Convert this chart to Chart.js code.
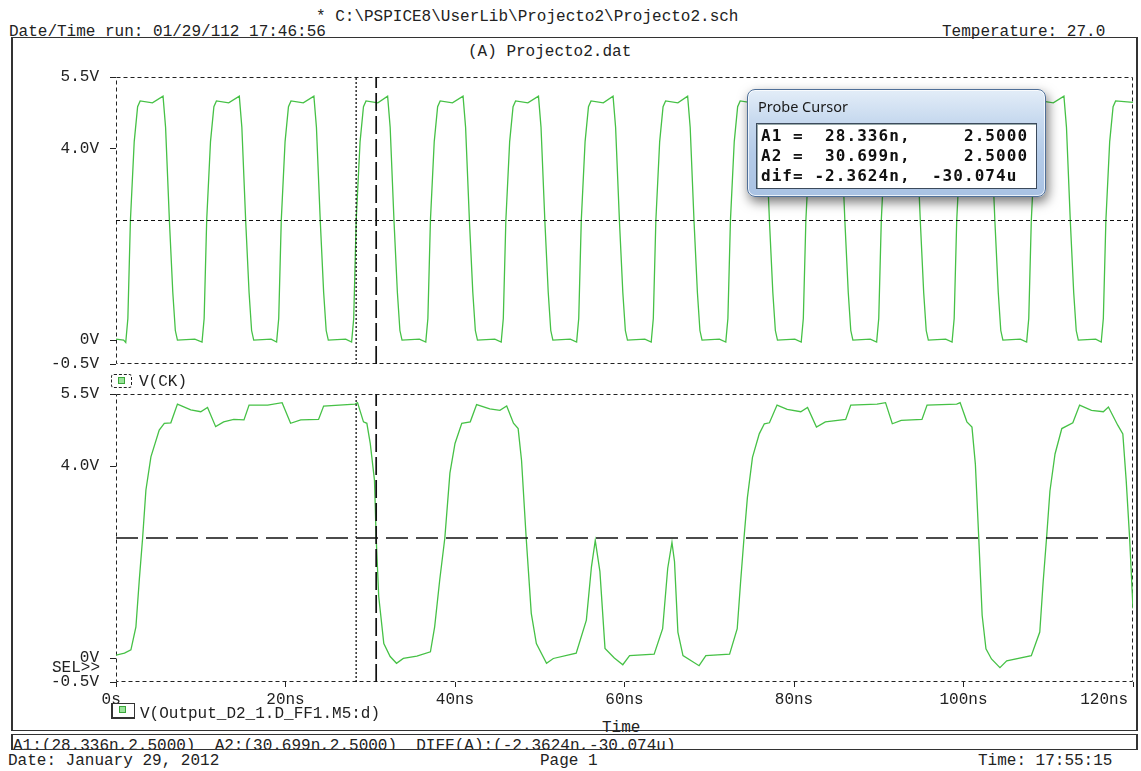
<!DOCTYPE html>
<html>
<head>
<meta charset="utf-8">
<script src="https://cdn.jsdelivr.net/npm/chart.js@4.4.1/dist/chart.umd.min.js"></script>
<style>
html,body{margin:0;padding:0;background:#fff;width:1141px;height:771px;overflow:hidden;position:relative;}
.t{position:absolute;font-family:'Liberation Mono','DejaVu Sans Mono',monospace;font-size:16px;line-height:16px;color:#222;white-space:pre;}
.cv{position:absolute;left:0;}
#frame{position:absolute;left:11px;top:37px;width:1123px;height:692px;border-top:1px solid #333;border-bottom:1px solid #333;border-left:2px solid #333;border-right:2px solid #333;}
#foot{position:absolute;left:11px;top:734px;width:1123px;height:14px;border-top:1px solid #333;border-bottom:1px solid #333;border-left:2px solid #333;border-right:2px solid #333;overflow:hidden;}
#foot .t{left:0px;top:3px;}
.ico1{position:absolute;left:111px;top:374px;width:19px;height:12px;border:1px dashed #222;border-radius:3px;}
.ico2{position:absolute;left:111px;top:703px;width:21px;height:13px;border:1px solid #333;border-left-width:2px;border-bottom-width:2px;}
.sq{position:absolute;width:5px;height:5px;background:#9be39b;border:1px solid #3aa83a;}
#probe{position:absolute;left:747px;top:89px;width:297px;height:106px;border:1px solid #4f6f98;border-radius:8px;
background:linear-gradient(180deg,#e3edf8 0%,#c8daef 28%,#b4cbe8 60%,#a9c2e3 100%);
box-shadow:inset 0 0 0 1px rgba(255,255,255,0.75), 2px 5px 12px rgba(0,0,0,0.55);}
#probe .ttl{position:absolute;left:10px;top:6px;font-family:'Noto Sans','Open Sans',sans-serif;font-size:14.5px;color:#1a1a1a;}
#probe .box{position:absolute;left:8px;top:33px;width:279px;height:64px;background:#fff;border:1px solid #3c4a5c;box-shadow:inset 1px 1px 0 #9aa;}
#probe .box div{position:absolute;left:4px;font-family:'DejaVu Sans Mono',monospace;font-weight:bold;font-size:16px;line-height:20px;letter-spacing:1.05px;color:#111;white-space:pre;}
</style>
</head>
<body>
<div id="frame"></div>
<div class="cv" style="top:67px;width:1141px;height:310px;"><canvas id="c1" width="1141" height="310"></canvas></div>
<div class="cv" style="top:384px;width:1141px;height:328px;"><canvas id="c2" width="1141" height="328"></canvas></div>

<div class="t" style="left:316px;top:9px;">* C:\PSPICE8\UserLib\Projecto2\Projecto2.sch</div>
<div class="t" style="left:9px;top:24px;">Date/Time run: 01/29/112 17:46:56</div>
<div class="t" style="left:942px;top:24px;">Temperature: 27.0</div>
<div class="t" style="left:468px;top:44px;">(A) Projecto2.dat</div>

<div class="ico1"><div class="sq" style="left:6px;top:2px;"></div></div>
<div class="t" style="left:139px;top:374px;">V(CK)</div>
<div class="t" style="left:52px;top:660px;">SEL&gt;&gt;</div>
<div class="ico2"><div class="sq" style="left:6px;top:2px;"></div></div>
<div class="t" style="left:140px;top:706px;">V(Output_D2_1.D_FF1.M5:d)</div>
<div class="t" style="left:602px;top:720px;">Time</div>

<div id="foot"><div class="t">A1:(28.336n,2.5000)  A2:(30.699n,2.5000)  DIFF(A):(-2.3624n,-30.074u)</div></div>
<div class="t" style="left:8px;top:753px;">Date: January 29, 2012</div>
<div class="t" style="left:540px;top:753px;">Page 1</div>
<div class="t" style="left:978px;top:753px;">Time: 17:55:15</div>

<div id="probe">
  <div class="ttl">Probe Cursor</div>
  <div class="box">
    <div style="top:2px;">A1 =  28.336n,     2.5000</div>
    <div style="top:22px;">A2 =  30.699n,     2.5000</div>
    <div style="top:42px;">dif= -2.3624n,  -30.074u</div>
  </div>
</div>

<script>
// ---- axis ticks ----
const xTickValues = [0, 20, 40, 60, 80, 100, 120];
const xTickLabels = ['0s', '20ns', '40ns', '60ns', '80ns', '100ns', '120ns'];
const yTickValues = [-0.5, 0, 4.0, 5.5];
const yTickLabels = ['-0.5V', '0V', '4.0V', '5.5V'];

// ---- probe cursors ----
const cursorA1 = 28.336;
const cursorA2 = 30.699;
const cursorLevel = 2.5;

// ---- V(CK) : time (ns) / volts ----
const clkTime = [
  0, 0.9,
  1.15, 1.4, 1.7, 2.15, 2.55, 2.85, 4.3, 5.55, 5.85, 6.3, 6.7, 7.0, 7.25, 9.3,
  10.15, 10.4, 10.7, 11.15, 11.55, 11.85, 13.3, 14.55, 14.85, 15.3, 15.7, 16.0, 16.25, 18.3,
  18.95, 19.2, 19.5, 19.95, 20.35, 20.65, 22.1, 23.35, 23.65, 24.1, 24.5, 24.8, 25.05, 27.1,
  27.8, 28.05, 28.34, 28.8, 29.2, 29.5, 30.9, 32.05, 32.35, 32.8, 33.2, 33.5, 33.75, 35.8,
  36.55, 36.8, 37.1, 37.55, 37.95, 38.25, 39.7, 40.95, 41.25, 41.7, 42.1, 42.4, 42.65, 44.7,
  45.45, 45.7, 46.0, 46.45, 46.85, 47.15, 48.6, 49.85, 50.15, 50.6, 51.0, 51.3, 51.55, 53.6,
  54.35, 54.6, 54.9, 55.35, 55.75, 56.05, 57.5, 58.65, 58.95, 59.4, 59.8, 60.1, 60.35, 62.4,
  63.15, 63.4, 63.7, 64.15, 64.55, 64.85, 66.3, 67.45, 67.75, 68.2, 68.6, 68.9, 69.15, 71.2,
  71.95, 72.2, 72.5, 72.95, 73.35, 73.65, 75.1, 76.35, 76.65, 77.1, 77.5, 77.8, 78.05, 80.1,
  80.85, 81.1, 81.4, 81.85, 82.25, 82.55, 84.0, 85.25, 85.55, 86.0, 86.4, 86.7, 86.95, 89.0,
  89.75, 90.0, 90.3, 90.75, 91.15, 91.45, 92.9, 94.15, 94.45, 94.9, 95.3, 95.6, 95.85, 97.9,
  98.65, 98.9, 99.2, 99.65, 100.05, 100.35, 101.8, 102.95, 103.25, 103.7, 104.1, 104.4, 104.65, 106.7,
  107.45, 107.7, 108.0, 108.45, 108.85, 109.15, 110.6, 111.85, 112.15, 112.6, 113.0, 113.3, 113.55, 115.6,
  116.25, 116.5, 116.8, 117.25, 117.65, 117.95, 120
];
const clkVolt = [
  0.02, 0.0,
  -0.05, 0.45, 2.5, 4.15, 4.88, 5.0, 4.96, 5.1, 4.45, 2.5, 1.0, 0.2, 0.0, 0.02,
  -0.04, 0.45, 2.5, 4.15, 4.88, 5.0, 4.96, 5.1, 4.45, 2.5, 1.0, 0.2, 0.0, 0.02,
  -0.04, 0.45, 2.5, 4.15, 4.88, 5.0, 4.96, 5.1, 4.45, 2.5, 1.0, 0.2, 0.0, 0.02,
  -0.04, 0.45, 2.5, 4.15, 4.88, 5.0, 4.96, 5.1, 4.45, 2.5, 1.0, 0.2, 0.0, 0.02,
  -0.04, 0.45, 2.5, 4.15, 4.88, 5.0, 4.96, 5.1, 4.45, 2.5, 1.0, 0.2, 0.0, 0.02,
  -0.04, 0.45, 2.5, 4.15, 4.88, 5.0, 4.96, 5.1, 4.45, 2.5, 1.0, 0.2, 0.0, 0.02,
  -0.04, 0.45, 2.5, 4.15, 4.88, 5.0, 4.96, 5.1, 4.45, 2.5, 1.0, 0.2, 0.0, 0.02,
  -0.04, 0.45, 2.5, 4.15, 4.88, 5.0, 4.96, 5.1, 4.45, 2.5, 1.0, 0.2, 0.0, 0.02,
  -0.04, 0.45, 2.5, 4.15, 4.88, 5.0, 4.96, 5.1, 4.45, 2.5, 1.0, 0.2, 0.0, 0.02,
  -0.04, 0.45, 2.5, 4.15, 4.88, 5.0, 4.96, 5.1, 4.45, 2.5, 1.0, 0.2, 0.0, 0.02,
  -0.04, 0.45, 2.5, 4.15, 4.88, 5.0, 4.96, 5.1, 4.45, 2.5, 1.0, 0.2, 0.0, 0.02,
  -0.04, 0.45, 2.5, 4.15, 4.88, 5.0, 4.96, 5.1, 4.45, 2.5, 1.0, 0.2, 0.0, 0.02,
  -0.04, 0.45, 2.5, 4.15, 4.88, 5.0, 4.96, 5.1, 4.45, 2.5, 1.0, 0.2, 0.0, 0.02,
  -0.04, 0.45, 2.5, 4.15, 4.88, 5.0, 4.97
];

// ---- V(Output_D2_1.D_FF1.M5:d) : time (ns) / volts ----
const outTime = [
  0, 1.0, 1.76, 2.35, 2.75, 3.14, 3.53, 4.12, 5.1, 5.7, 6.47, 7.25, 8.82, 10.0, 10.8, 11.76,
  12.7, 13.9, 15.1, 15.7, 17.9, 19.6, 20.6, 21.8, 23.9, 24.5, 28.2, 28.5, 29.2, 29.6, 30.0,
  30.5, 30.7, 31.0, 31.6, 32.35, 33.1, 33.9, 35.5, 37.1, 37.6, 38.2, 38.8, 39.4, 40.0, 40.8,
  41.8, 42.55, 44.1, 45.3, 46.1, 46.9, 47.45, 47.85, 48.4, 49.0, 49.6, 50.8, 51.6, 54.3,
  55.5, 56.1, 56.55, 57.1, 57.7, 58.8, 59.8, 60.6, 63.5, 64.5, 65.1, 65.6, 65.9, 66.3, 66.9,
  68.8, 69.6, 72.4, 73.3, 73.7, 74.1, 74.5, 75.1, 75.9, 76.5, 77.1, 78.0, 79.2, 80.8, 81.6,
  82.65, 83.7, 86.1, 86.7, 89.8, 90.8, 91.6, 92.65, 95.1, 95.7, 99.2, 99.6, 100.4, 101.0,
  101.4, 101.8, 102.2, 102.65, 103.3, 104.3, 105.1, 108.0, 109.0, 109.4, 109.8, 110.2, 110.8,
  111.6, 112.9, 113.7, 115.1, 116.5, 117.1, 118.2, 118.8, 119.2, 119.6, 120
];
const outVolt = [
  0.06, 0.1, 0.17, 0.65, 1.63, 2.5, 3.5, 4.19, 4.75, 4.89, 4.9, 5.29, 5.17, 5.13, 5.22, 4.82,
  4.92, 4.97, 4.96, 5.27, 5.27, 5.32, 4.89, 4.96, 4.97, 5.25, 5.29, 5.32, 4.92, 4.89, 4.47,
  3.7, 2.5, 1.28, 0.3, 0.03, -0.11, -0.01, 0.04, 0.13, 0.65, 1.63, 2.5, 3.85, 4.47, 4.89,
  4.92, 5.28, 5.19, 5.16, 5.25, 4.89, 4.78, 4.12, 2.5, 0.93, 0.3, -0.11, -0.01, 0.1,
  0.79, 1.9, 2.45, 1.8, 0.2, 0.0, -0.14, 0.05, 0.08, 0.61, 1.87, 2.41, 2.01, 0.54, 0.05,
  -0.16, 0.05, 0.08, 0.61, 1.59, 2.5, 3.34, 4.18, 4.67, 4.88, 4.9, 5.27, 5.18, 5.13, 5.22,
  4.81, 4.92, 4.97, 5.27, 5.29, 5.32, 4.88, 4.95, 4.97, 5.27, 5.29, 5.32, 4.92, 4.81,
  4.04, 2.5, 0.89, 0.19, -0.02, -0.2, -0.06, 0.05, 0.54, 1.59, 2.5, 3.48, 4.25,
  4.78, 4.9, 5.27, 5.16, 5.13, 5.23, 4.85, 4.67, 3.69, 2.5, 1.03
];

const FONT = {family: "'Liberation Mono','DejaVu Sans Mono',monospace", size: 16};
const TRACE = '#46c146';
const INK = '#222';

const framePlugin = {
  id: 'frame',
  beforeDatasetsDraw(chart) {
    const a = chart.chartArea, ctx = chart.ctx;
    ctx.save();
    ctx.strokeStyle = INK; ctx.lineWidth = 1; ctx.setLineDash([4, 3]);
    ctx.strokeRect(Math.round(a.left) + 0.5, Math.round(a.top) + 0.5,
                   Math.round(a.right - a.left) - 1, Math.round(a.bottom - a.top) - 1);
    ctx.restore();
  }
};

function pts(xs, ys) { return xs.map((x, i) => ({x: x, y: ys[i]})); }

function makeChart(id, time, volt, showX, hDash, hWidth) {
  const datasets = [
    {data: [{x: cursorA2, y: -0.5}, {x: cursorA2, y: 5.5}], borderColor: '#111', borderWidth: 1.7, borderDash: [18, 5]},
    {data: [{x: cursorA1, y: -0.5}, {x: cursorA1, y: 5.5}], borderColor: '#111', borderWidth: 1.3, borderDash: [2, 2]},
    {data: [{x: 0, y: cursorLevel}, {x: 120, y: cursorLevel}], borderColor: '#111', borderWidth: hWidth, borderDash: hDash},
    {data: pts(time, volt), borderColor: TRACE, borderWidth: 1.3}
  ].map(d => Object.assign({pointRadius: 0, tension: 0, fill: false}, d));

  return new Chart(document.getElementById(id), {
    type: 'line',
    data: {datasets: datasets},
    plugins: [framePlugin],
    options: {
      responsive: false, animation: false, events: [],
      layout: {padding: {top: 10, right: 8, bottom: showX ? 0 : 13, left: 0}},
      plugins: {legend: {display: false}, tooltip: {enabled: false}},
      scales: {
        x: {
          type: 'linear', min: 0, max: 120, display: showX,
          afterBuildTicks: s => { s.ticks = xTickValues.map(v => ({value: v})); },
          afterFit: s => { s.height = showX ? 30 : 0; s.paddingLeft = 0; s.paddingRight = 0; },
          border: {display: false},
          grid: {drawOnChartArea: false, drawTicks: true, tickLength: 5, color: INK},
          ticks: {
            padding: 3, color: INK, font: FONT, maxRotation: 0, autoSkip: false,
            callback: v => {
              const i = xTickValues.indexOf(v);
              let s = xTickLabels[i];
              if (i === 0) s = s + ' ';
              if (i === xTickValues.length - 1) s = s + '      ';
              return s;
            }
          }
        },
        y: {
          type: 'linear', min: -0.5, max: 5.5,
          afterBuildTicks: s => { s.ticks = yTickValues.map(v => ({value: v})); },
          afterFit: s => { s.width = 116; s.paddingTop = 0; s.paddingBottom = 0; },
          border: {display: false},
          grid: {drawOnChartArea: false, drawTicks: true, tickLength: 6, color: INK},
          ticks: {
            padding: 11, color: INK, font: FONT, autoSkip: false,
            callback: v => yTickLabels[yTickValues.indexOf(v)]
          }
        }
      }
    }
  });
}

makeChart('c1', clkTime, clkVolt, false, [4, 3], 1.2);
makeChart('c2', outTime, outVolt, true, [22, 8], 1.6);
</script>
</body>
</html>
